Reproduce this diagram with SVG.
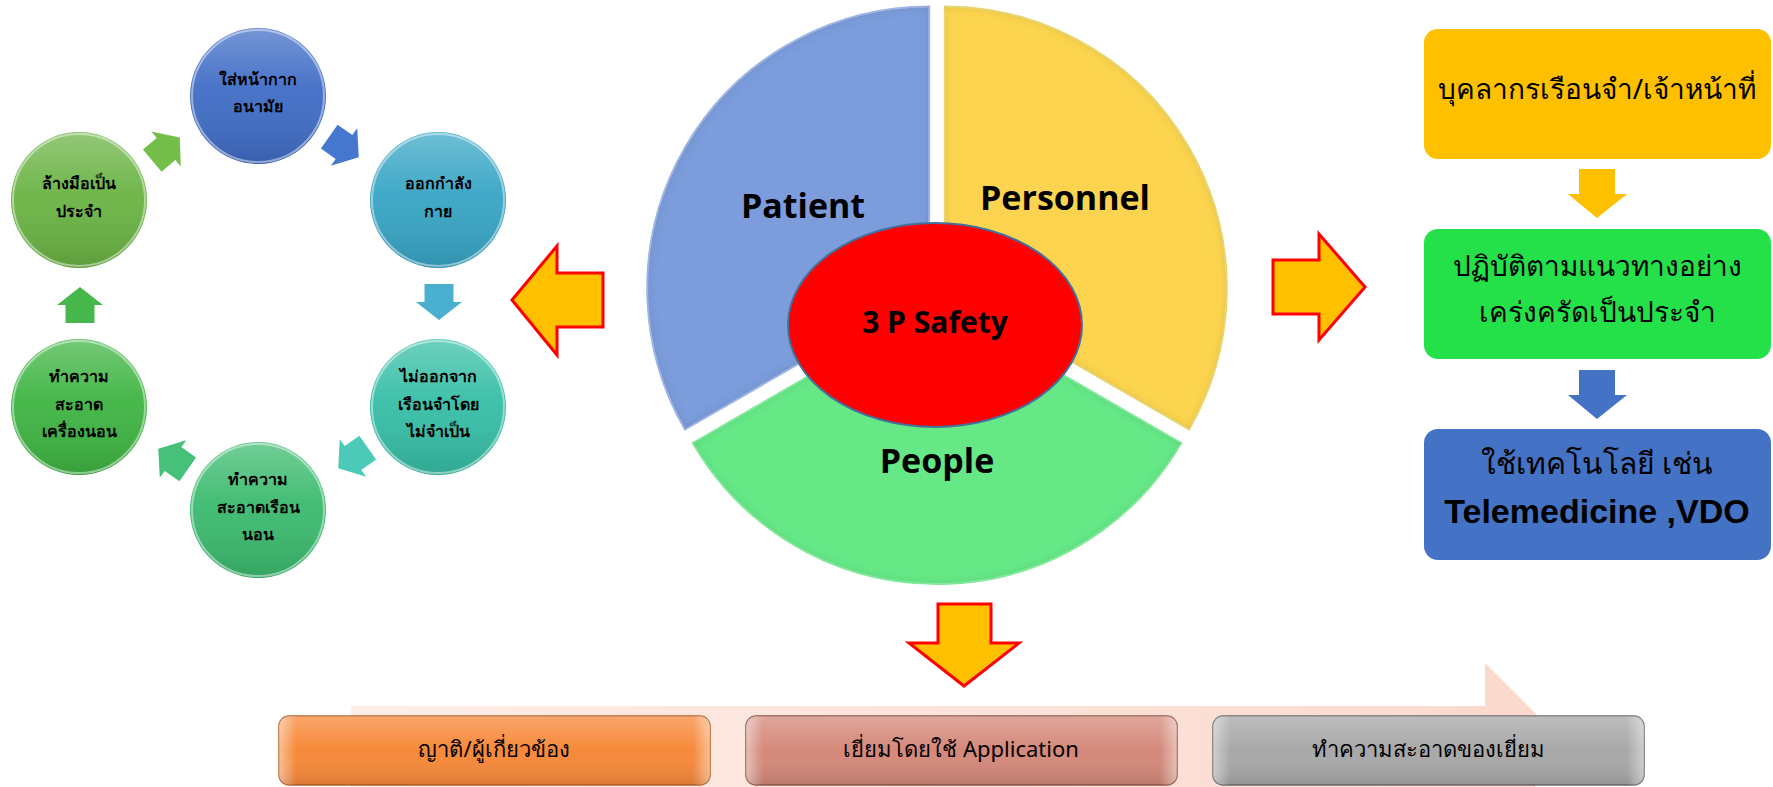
<svg xmlns="http://www.w3.org/2000/svg" width="1773" height="787" viewBox="0 0 1773 787">
<style>
.thai{font-family:"Noto Sans","DejaVu Sans",sans-serif;fill:#000;text-anchor:middle}
.ct{font-size:16px;font-weight:700}
.rb{font-size:28px}
.bb{font-size:22px}
.lbl{font-family:"Open Sans","Liberation Sans",sans-serif;font-weight:700;font-size:34px;fill:#000;text-anchor:middle}
.big{fill:#FFC000;stroke:#FF0000;stroke-width:3;stroke-linejoin:miter}
.gloss{fill:url(#gloss)}
.rim{fill:none;stroke:#fff;stroke-opacity:0.45;stroke-width:2}
</style>
<defs>
<linearGradient id="gloss" x1="0" y1="0" x2="0" y2="1">
<stop offset="0" stop-color="#fff" stop-opacity="0.28"/>
<stop offset="0.45" stop-color="#fff" stop-opacity="0.05"/>
<stop offset="1" stop-color="#000" stop-opacity="0.12"/>
</linearGradient>
<linearGradient id="bevelH" x1="0" y1="0" x2="1" y2="0">
<stop offset="0" stop-color="#fff" stop-opacity="0.45"/>
<stop offset="0.04" stop-color="#fff" stop-opacity="0"/>
<stop offset="0.96" stop-color="#fff" stop-opacity="0"/>
<stop offset="1" stop-color="#fff" stop-opacity="0.45"/>
</linearGradient>
<linearGradient id="bevelV" x1="0" y1="0" x2="0" y2="1">
<stop offset="0" stop-color="#fff" stop-opacity="0.25"/>
<stop offset="0.5" stop-color="#fff" stop-opacity="0"/>
<stop offset="1" stop-color="#000" stop-opacity="0.12"/>
</linearGradient>
<linearGradient id="pink" x1="0" y1="0" x2="1" y2="0">
<stop offset="0" stop-color="#FDEDE7"/>
<stop offset="1" stop-color="#FBD9CC"/>
</linearGradient>
<filter id="inner" x="-5%" y="-5%" width="110%" height="110%">
<feGaussianBlur in="SourceAlpha" stdDeviation="5" result="b"/>
<feComposite in="SourceAlpha" in2="b" operator="arithmetic" k2="1" k3="-1" result="edge"/>
<feFlood flood-color="#000" flood-opacity="0.3"/>
<feComposite in2="edge" operator="in" result="shade"/>
<feMerge><feMergeNode in="SourceGraphic"/><feMergeNode in="shade"/></feMerge>
</filter>
<polygon id="sa" points="-18,-14.5 0,-14.5 0,-23 18,0 0,23 0,14.5 -18,14.5"/>
</defs>
<rect width="1773" height="787" fill="#fff"/>

<!-- Left cycle -->
<g id="c-mask"><circle cx="258" cy="96" r="68" fill="#3F6CC5"/><circle cx="258" cy="96" r="68" class="gloss"/><circle cx="258" cy="96" r="66" class="rim"/>
<text class="thai ct" x="258" y="85">ใส่หน้ากาก</text><text class="thai ct" x="258" y="112">อนามัย</text></g>
<g id="c-exercise"><circle cx="438" cy="200" r="68" fill="#37A5C5"/><circle cx="438" cy="200" r="68" class="gloss"/><circle cx="438" cy="200" r="66" class="rim"/>
<text class="thai ct" x="438" y="189">ออกกำลัง</text><text class="thai ct" x="438" y="217">กาย</text></g>
<g id="c-stay"><circle cx="438" cy="407" r="68" fill="#36BEA6"/><circle cx="438" cy="407" r="68" class="gloss"/><circle cx="438" cy="407" r="66" class="rim"/>
<text class="thai ct" x="438" y="382">ไม่ออกจาก</text><text class="thai ct" x="438" y="410">เรือนจำโดย</text><text class="thai ct" x="438" y="437">ไม่จำเป็น</text></g>
<g id="c-ward"><circle cx="258" cy="510" r="68" fill="#3BBA6E"/><circle cx="258" cy="510" r="68" class="gloss"/><circle cx="258" cy="510" r="66" class="rim"/>
<text class="thai ct" x="258" y="485">ทำความ</text><text class="thai ct" x="258" y="513">สะอาดเรือน</text><text class="thai ct" x="258" y="540">นอน</text></g>
<g id="c-bed"><circle cx="79" cy="407" r="68" fill="#3EB442"/><circle cx="79" cy="407" r="68" class="gloss"/><circle cx="79" cy="407" r="66" class="rim"/>
<text class="thai ct" x="79" y="382">ทำความ</text><text class="thai ct" x="79" y="410">สะอาด</text><text class="thai ct" x="79" y="437">เครื่องนอน</text></g>
<g id="c-hand"><circle cx="79" cy="200" r="68" fill="#6AB343"/><circle cx="79" cy="200" r="68" class="gloss"/><circle cx="79" cy="200" r="66" class="rim"/>
<text class="thai ct" x="79" y="189">ล้างมือเป็น</text><text class="thai ct" x="79" y="217">ประจำ</text></g>

<g id="cycle-connectors">
<use href="#sa" transform="translate(166,149) rotate(-40)" fill="#74BF4A"/>
<use href="#sa" transform="translate(344,147) rotate(35)" fill="#4677CF"/>
<use href="#sa" transform="translate(439,302) rotate(90)" fill="#4BAFD0"/>
<use href="#sa" transform="translate(353,458) rotate(145)" fill="#4CCAB8"/>
<use href="#sa" transform="translate(173,459) rotate(215)" fill="#47C07A"/>
<use href="#sa" transform="translate(80,305) rotate(-90)" fill="#46B84B"/>
</g>

<!-- Pie -->
<g id="pie">
<g id="patient"><path d="M929.2,288.5 L685,429.5 A282,282 0 0 1 929.2,6.5 Z" fill="#7B9CDB" stroke="#A8C0F0" stroke-width="2" filter="url(#inner)"/>
<text class="lbl" x="803" y="218">Patient</text></g>
<g id="personnel"><path d="M944.8,288.5 L944.8,6.5 A282,282 0 0 1 1189,429.5 Z" fill="#FCD450" stroke="#F3E27C" stroke-width="2" filter="url(#inner)"/>
<text class="lbl" x="1065" y="210">Personnel</text></g>
<g id="people"><path d="M937,302 L1181.2,443 A282,282 0 0 1 692.8,443 Z" fill="#66E887" stroke="#8DF5A5" stroke-width="2" filter="url(#inner)"/>
<text class="lbl" x="937" y="473">People</text></g>
<g id="safety"><ellipse cx="935" cy="325" rx="147" ry="102" fill="#FF0000" stroke="#41719C" stroke-width="2"/>
<text class="lbl" x="935" y="333" style="font-size:30px">3 P Safety</text></g>
</g>

<g id="main-connectors">
<polygon class="big" points="512,300 557,246 557,273 603,273 603,327 557,327 557,355"/>
<polygon class="big" points="1273,260 1319,260 1319,234 1365,287 1319,340 1319,314 1273,314"/>
<polygon class="big" points="938,604 991,604 991,643 1019,643 964,686 909,643 938,643"/>
</g>

<!-- Right flow -->
<g id="r-staff"><rect x="1424" y="29" width="347" height="130" rx="14" fill="#FFC000"/>
<text class="thai rb" x="1597" y="99">บุคลากรเรือนจำ/เจ้าหน้าที่</text></g>
<g id="r-follow"><rect x="1424" y="229" width="347" height="130" rx="14" fill="#24E14A"/>
<text class="thai rb" x="1597" y="276">ปฏิบัติตามแนวทางอย่าง</text><text class="thai rb" x="1597" y="322">เคร่งครัดเป็นประจำ</text></g>
<g id="r-tech"><rect x="1424" y="429" width="347" height="131" rx="14" fill="#4472C4"/>
<text class="thai rb" x="1597" y="474" style="font-size:30px">ใช้เทคโนโลยี เช่น</text>
<text x="1597" y="523" font-family="Liberation Sans, Arial, sans-serif" font-weight="700" font-size="34" text-anchor="middle" fill="#000">Telemedicine ,VDO</text></g>
<g id="right-connectors">
<polygon points="1579,169 1615,169 1615,194 1627,194 1597,218 1568,194 1579,194" fill="#FFC000"/>
<polygon points="1579,370 1615,370 1615,395 1627,395 1597,419 1568,395 1579,395" fill="#4472C4"/>
</g>

<!-- Bottom process -->
<g id="process-arrow"><polygon points="351,706 1485,706 1485,663 1572,750 1485,837 1485,794 351,794" fill="url(#pink)"/></g>
<g id="b-relatives"><rect x="279" y="716" width="431" height="69" rx="10" fill="#F7893A" stroke="#B8642C" stroke-width="1.5"/>
<rect x="279" y="716" width="431" height="69" rx="10" fill="url(#bevelV)"/><rect x="279" y="716" width="431" height="69" rx="10" fill="url(#bevelH)"/>
<text class="thai bb" x="494" y="757">ญาติ/ผู้เกี่ยวข้อง</text></g>
<g id="b-visit"><rect x="746" y="716" width="431" height="69" rx="10" fill="#D4897A" stroke="#94584C" stroke-width="1.5"/>
<rect x="746" y="716" width="431" height="69" rx="10" fill="url(#bevelV)"/><rect x="746" y="716" width="431" height="69" rx="10" fill="url(#bevelH)"/>
<text class="thai bb" x="961" y="757">เยี่ยมโดยใช้ Application</text></g>
<g id="b-clean"><rect x="1213" y="716" width="431" height="69" rx="10" fill="#A8A8A8" stroke="#6E6E6E" stroke-width="1.5"/>
<rect x="1213" y="716" width="431" height="69" rx="10" fill="url(#bevelV)"/><rect x="1213" y="716" width="431" height="69" rx="10" fill="url(#bevelH)"/>
<text class="thai bb" x="1428" y="757">ทำความสะอาดของเยี่ยม</text></g>
</svg>
